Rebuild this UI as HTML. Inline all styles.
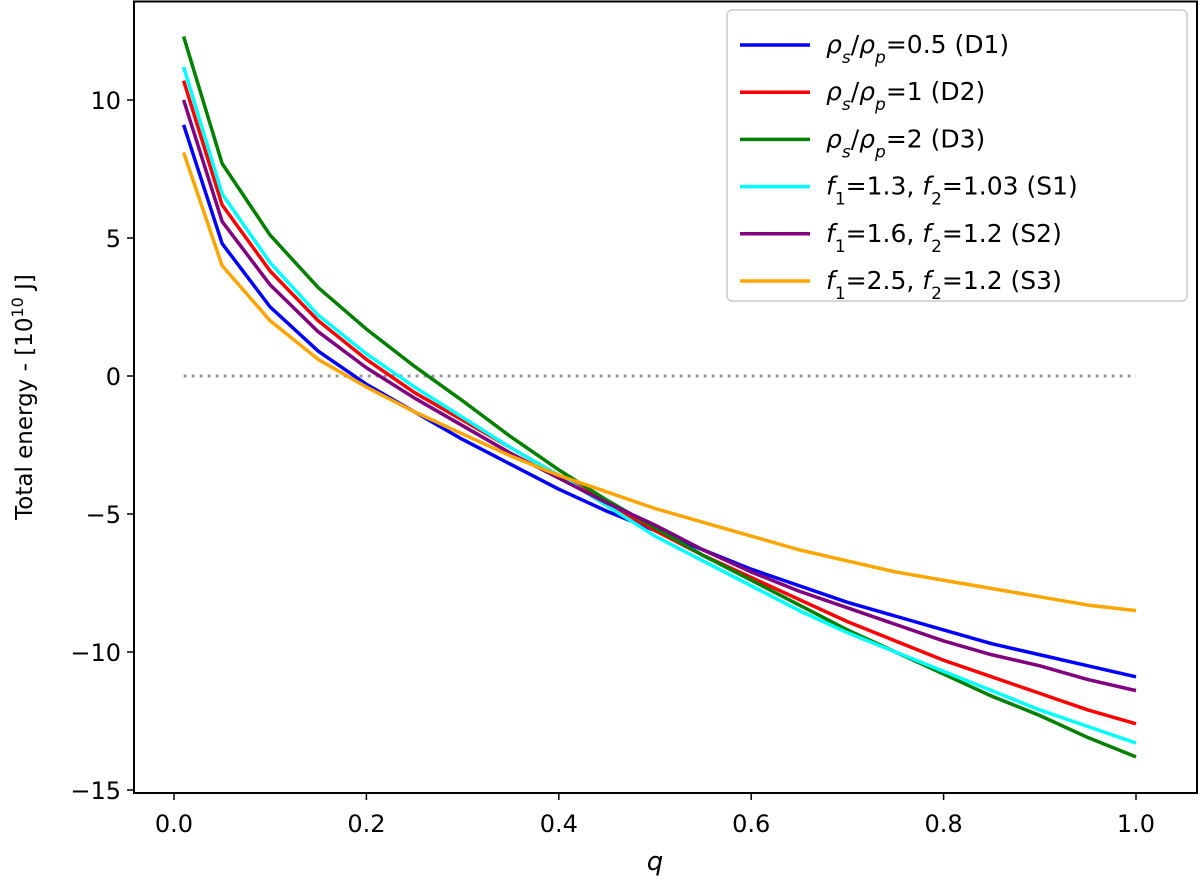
<!DOCTYPE html>
<html><head><meta charset="utf-8"><style>
body{margin:0;background:#fff}
svg{display:block;font-family:"DejaVu Sans","Liberation Sans",sans-serif}
</style></head><body>
<svg id="c" width="1200" height="881"></svg>
<script>
const qValues=[0.01,0.05,0.1,0.15,0.2,0.25,0.3,0.35,0.4,0.45,0.5,0.55,0.6,0.65,0.7,0.75,0.8,0.85,0.9,0.95,1.0];
const seriesD1=[9.1,4.8,2.5,0.9,-0.3,-1.3,-2.3,-3.2,-4.1,-4.9,-5.6,-6.3,-7.0,-7.6,-8.2,-8.7,-9.2,-9.7,-10.1,-10.5,-10.9];
const seriesD2=[10.7,6.2,3.8,2.0,0.6,-0.6,-1.6,-2.6,-3.6,-4.6,-5.6,-6.5,-7.3,-8.1,-8.9,-9.6,-10.3,-10.9,-11.5,-12.1,-12.6];
const seriesD3=[12.3,7.7,5.1,3.2,1.7,0.35,-0.9,-2.2,-3.4,-4.5,-5.5,-6.5,-7.4,-8.3,-9.2,-10.0,-10.8,-11.6,-12.3,-13.1,-13.8];
const seriesS1=[11.2,6.6,4.1,2.2,0.8,-0.4,-1.5,-2.6,-3.6,-4.7,-5.8,-6.7,-7.6,-8.5,-9.3,-10.0,-10.7,-11.4,-12.1,-12.7,-13.3];
const seriesS2=[10.0,5.6,3.3,1.6,0.3,-0.8,-1.8,-2.8,-3.7,-4.6,-5.4,-6.3,-7.1,-7.8,-8.4,-9.0,-9.6,-10.1,-10.5,-11.0,-11.4];
const seriesS3=[8.1,4.0,2.0,0.6,-0.4,-1.3,-2.1,-2.9,-3.6,-4.2,-4.8,-5.3,-5.8,-6.3,-6.7,-7.1,-7.4,-7.7,-8.0,-8.3,-8.5];
const xTicks=[0.0,0.2,0.4,0.6,0.8,1.0];
const xTickLabels=["0.0","0.2","0.4","0.6","0.8","1.0"];
const yTicks=[10,5,0,-5,-10,-15];
const yTickLabels=["10","5","0","\u22125","\u221210","\u221215"];
const NS="http://www.w3.org/2000/svg";
const svg=document.getElementById('c');
const X=v=>174+v*962;
const Y=v=>376-v*27.6;
function mk(t,a,p){const e=document.createElementNS(NS,t);for(const k in a)e.setAttribute(k,a[k]);(p||svg).appendChild(e);return e;}
const fr=mk('rect',{x:134,y:1.5,width:1063,height:791.5,fill:'none',stroke:'#000','stroke-width':2});


xTicks.forEach((v,i)=>{
  const l=mk('line',{x1:X(v),x2:X(v),y1:793,y2:800,stroke:'#000','stroke-width':1.5});
  
  
  const t=mk('text',{x:X(v),y:832,'font-size':24,'text-anchor':'middle'});
  t.textContent=xTickLabels[i];
  
  
});
yTicks.forEach((v,i)=>{
  const l=mk('line',{x1:127,x2:134,y1:Y(v),y2:Y(v),stroke:'#000','stroke-width':1.5});
  
  
  const t=mk('text',{x:121,y:Y(v)+9,'font-size':24,'text-anchor':'end'});
  t.textContent=yTickLabels[i];
  
  
});
const zl=mk('line',{x1:X(0.01),x2:X(1),y1:Y(0),y2:Y(0),stroke:'#999','stroke-width':3,'stroke-dasharray':'3,5'});


const series=[
 [seriesD1,'#0000ff','series-d1'],[seriesD2,'#ff0000','series-d2'],[seriesD3,'#008000','series-d3'],
 [seriesS1,'#00ffff','series-s1'],[seriesS2,'#800080','series-s2'],[seriesS3,'#ffa500','series-s3']];
series.forEach(s=>{
  const p=mk('polyline',{points:qValues.map((q,i)=>X(q)+','+Y(s[0][i])).join(' '),fill:'none',stroke:s[1],'stroke-width':3.5,'stroke-linejoin':'round'});
  
  
});
const xl=mk('text',{x:655,y:870,'font-size':26,'font-style':'italic','text-anchor':'middle'});
xl.textContent='q';


const yl=mk('text',{transform:'translate(32,397) rotate(-90)','font-size':23,'text-anchor':'middle'});
yl.innerHTML='Total energy - [10<tspan baseline-shift="super" font-size="16">10</tspan> J]';


const lg=mk('g',{});


mk('rect',{x:727,y:10,width:460,height:291,rx:5,fill:'#fff',stroke:'#ccc','stroke-width':1.5},lg);
const sb='baseline-shift="sub" font-size="17"';
const labels=[
 '<tspan font-style="italic">ρ<tspan '+sb+'>s</tspan></tspan><tspan>/</tspan><tspan font-style="italic">ρ<tspan '+sb+'>p</tspan></tspan><tspan>=0.5 (D1)</tspan>',
 '<tspan font-style="italic">ρ<tspan '+sb+'>s</tspan></tspan><tspan>/</tspan><tspan font-style="italic">ρ<tspan '+sb+'>p</tspan></tspan><tspan>=1 (D2)</tspan>',
 '<tspan font-style="italic">ρ<tspan '+sb+'>s</tspan></tspan><tspan>/</tspan><tspan font-style="italic">ρ<tspan '+sb+'>p</tspan></tspan><tspan>=2 (D3)</tspan>',
 '<tspan font-style="italic">f</tspan><tspan '+sb+'>1</tspan><tspan>=1.3, </tspan><tspan font-style="italic">f</tspan><tspan '+sb+'>2</tspan><tspan>=1.03 (S1)</tspan>',
 '<tspan font-style="italic">f</tspan><tspan '+sb+'>1</tspan><tspan>=1.6, </tspan><tspan font-style="italic">f</tspan><tspan '+sb+'>2</tspan><tspan>=1.2 (S2)</tspan>',
 '<tspan font-style="italic">f</tspan><tspan '+sb+'>1</tspan><tspan>=2.5, </tspan><tspan font-style="italic">f</tspan><tspan '+sb+'>2</tspan><tspan>=1.2 (S3)</tspan>'];
series.forEach((s,i)=>{
  const y=45+i*47.2;
  const g=mk('g',{},lg);
  
  
  mk('line',{x1:740,x2:810,y1:y,y2:y,stroke:s[1],'stroke-width':3.5},g);
  const t=mk('text',{x:826,y:y+8,'font-size':25},g);
  t.innerHTML=labels[i];
});
</script>
</body></html>
